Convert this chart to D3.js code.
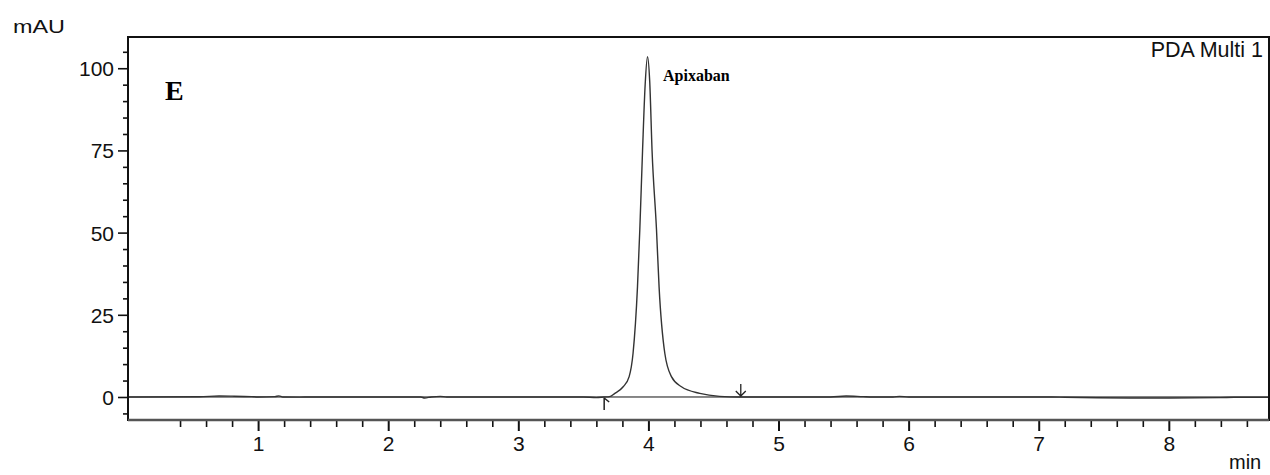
<!DOCTYPE html>
<html>
<head>
<meta charset="utf-8">
<script src="https://d3js.org/d3.v7.min.js"></script>
<style>
  html, body { margin: 0; padding: 0; background: #fff; }
  svg { display: block; }
  .lbl { font-family: "Liberation Sans", Arial, sans-serif; fill: #111; }
</style>
</head>
<body>
<script>
// Chromatogram: retention time (min) and absorbance (mAU)
const retentionTimes = [0, 0.55, 0.7, 0.8, 0.95, 1.0, 1.13, 1.16, 1.19, 1.32, 1.4, 2.25, 2.28, 2.33, 2.4, 2.45, 2.55, 3.5, 3.6, 3.66, 3.7,
  3.742, 3.806, 3.852, 3.882, 3.916, 3.934, 3.955, 3.975, 3.993, 4.01, 4.028, 4.062, 4.082, 4.126, 4.177, 4.254, 4.395, 4.547, 4.7,
  5.4, 5.52, 5.65, 5.72, 5.88, 5.93, 6.0, 7.1, 7.2, 7.7, 8.0, 8.4, 8.5, 8.77];
const absorbance = [0, 0.05, 0.3, 0.25, 0.1, 0, 0.1, 0.35, 0, -0.05, 0, 0, -0.3, 0, 0.2, 0, 0, 0, -0.2, 0, 0.1,
  1.1, 3.1, 6.2, 13.3, 33.5, 51, 75, 95, 103.5, 96, 75, 51, 33.5, 13.3, 6.2, 3.1, 1.1, 0.2, 0,
  0, 0.3, 0.1, 0, 0, 0.2, 0, 0, -0.1, -0.3, -0.3, -0.2, -0.1, -0.1];

// integration start / end marks
const markStart = 3.66;
const markEnd = 4.71;

const yMajorTicks = [0, 25, 50, 75, 100];
const yMinorTicks = [-5, 5, 10, 15, 20, 30, 35, 40, 45, 55, 60, 65, 70, 80, 85, 90, 95, 105];
const xMajorTicks = [1, 2, 3, 4, 5, 6, 7, 8];
const xMinorTicks = [0.4, 0.6, 0.8, 1.2, 1.4, 1.6, 1.8, 2.2, 2.4, 2.6, 2.8, 3.2, 3.4, 3.6, 3.8,
  4.2, 4.4, 4.6, 4.8, 5.2, 5.4, 5.6, 5.8, 6.2, 6.4, 6.6, 6.8, 7.2, 7.4, 7.6, 7.8, 8.2, 8.4, 8.6];

const peakName = "Apixaban";
const panelLetter = "E";
const channelName = "PDA Multi 1";

const width = 1270, height = 475;
const plotLeft = 128, plotTop = 37, plotRight = 1269, plotBottom = 420;

const svg = d3.select("body").append("svg")
  .attr("width", width)
  .attr("height", height);

const x = d3.scaleLinear().domain([0, 8.77]).range([plotLeft, plotRight]);
const y = d3.scaleLinear().domain([-7, 109.5]).range([plotBottom, plotTop]);

// axes (ticks only, the frame is drawn separately)
const yAxisMajor = svg.append("g")
  .attr("transform", `translate(${plotLeft},0)`)
  .call(d3.axisLeft(y).tickValues(yMajorTicks).tickSize(10).tickPadding(4).tickFormat(d3.format("d")));
const yAxisMinor = svg.append("g")
  .attr("transform", `translate(${plotLeft},0)`)
  .call(d3.axisLeft(y).tickValues(yMinorTicks).tickSize(5).tickFormat(""));
const xAxisMajor = svg.append("g")
  .attr("transform", `translate(0,${plotBottom})`)
  .call(d3.axisBottom(x).tickValues(xMajorTicks).tickSize(11).tickPadding(5).tickFormat(d3.format("d")));
const xAxisMinor = svg.append("g")
  .attr("transform", `translate(0,${plotBottom})`)
  .call(d3.axisBottom(x).tickValues(xMinorTicks).tickSize(7).tickFormat(""));

[yAxisMajor, yAxisMinor, xAxisMajor, xAxisMinor].forEach(a => {
  a.select(".domain").remove();
  a.selectAll("line").attr("stroke", "#111").attr("stroke-width", 1.6);
  a.selectAll("text")
    .attr("class", "lbl")
    .attr("font-size", "21px")
    .attr("fill", "#111");
});
xAxisMajor.selectAll("line").attr("stroke-width", 2);
yAxisMajor.selectAll("text").attr("dy", "0.36em");

// zero line
svg.append("line")
  .attr("x1", plotLeft).attr("x2", plotRight)
  .attr("y1", y(0)).attr("y2", y(0))
  .attr("stroke", "#111")
  .attr("stroke-width", 1);

// trace
const points = retentionTimes.map((t, i) => [t, absorbance[i]]);
const line = d3.line()
  .x(d => x(d[0]))
  .y(d => y(d[1]))
  .curve(d3.curveMonotoneX);

svg.append("path")
  .datum(points)
  .attr("d", line)
  .attr("fill", "none")
  .attr("stroke", "#333")
  .attr("stroke-width", 1.4);

// integration marks
const xs = x(markStart), y0 = y(0);
svg.append("path")
  .attr("d", `M${xs},${y0 + 13}V${y0 + 1}M${xs},${y0 + 1}L${xs + 5},${y0 + 5}`)
  .attr("fill", "none").attr("stroke", "#222").attr("stroke-width", 1.5);
const xe = x(markEnd);
svg.append("path")
  .attr("d", `M${xe},${y0 - 13}V${y0 - 1}M${xe - 5},${y0 - 6}L${xe},${y0 - 1}L${xe + 5},${y0 - 6}`)
  .attr("fill", "none").attr("stroke", "#222").attr("stroke-width", 1.3);

// frame
svg.append("rect")
  .attr("x", plotLeft).attr("y", plotTop)
  .attr("width", plotRight - plotLeft).attr("height", plotBottom - plotTop)
  .attr("fill", "none")
  .attr("stroke", "#111")
  .attr("stroke-width", 2);
svg.append("line")
  .attr("x1", plotLeft).attr("x2", plotRight)
  .attr("y1", plotBottom).attr("y2", plotBottom)
  .attr("stroke", "#555").attr("stroke-width", 2.5);

// labels
svg.append("text")
  .attr("class", "lbl")
  .attr("x", 13).attr("y", 33)
  .attr("font-size", "18px")
  .attr("textLength", 52)
  .attr("lengthAdjust", "spacingAndGlyphs")
  .text("mAU");

svg.append("text")
  .attr("class", "lbl")
  .attr("x", 1229).attr("y", 469)
  .attr("font-size", "20px")
  .text("min");

svg.append("text")
  .attr("class", "lbl")
  .attr("x", 1263).attr("y", 56.5)
  .attr("font-size", "21.5px")
  .attr("text-anchor", "end")
  .text(channelName);

svg.append("text")
  .attr("x", 165).attr("y", 100)
  .attr("font-family", "'Liberation Serif', 'Times New Roman', serif")
  .attr("font-weight", "bold")
  .attr("font-size", "28px")
  .attr("fill", "#000")
  .text(panelLetter);

svg.append("text")
  .attr("x", 663).attr("y", 81)
  .attr("font-family", "'Liberation Serif', 'Times New Roman', serif")
  .attr("font-weight", "bold")
  .attr("font-size", "16px")
  .attr("fill", "#000")
  .text(peakName);
</script>
</body>
</html>
